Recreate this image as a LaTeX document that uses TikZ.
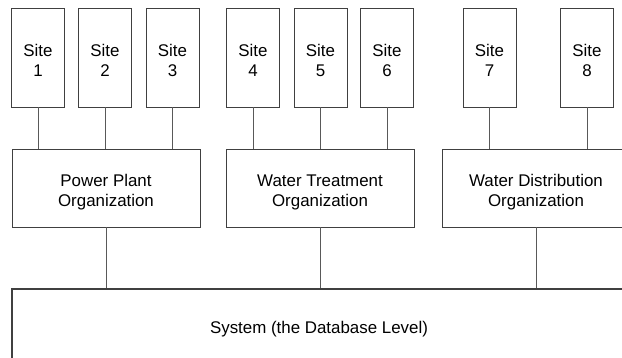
\documentclass[tikz,border=0pt]{standalone}
\usepackage{fontspec}
\setmainfont{Liberation Sans}
\tikzset{
	site/.style={draw=black!75, line width=0.8pt, minimum width=53pt, minimum height=99pt, inner sep=0pt, align=center, font=\fontsize{16.9}{20}\selectfont, execute at begin node={\rule{0pt}{38pt}}},
	org/.style={draw=black!75, line width=0.8pt, minimum width=188pt, minimum height=78pt, inner sep=0pt, align=center, font=\fontsize{16.9}{20}\selectfont, execute at begin node={\rule{0pt}{40pt}}},
	base/.style={draw=black!75, line width=1.2pt, minimum width=614pt, minimum height=72pt, inner sep=0pt, font=\fontsize{16.9}{20}\selectfont, execute at begin node={\rule{0pt}{20pt}}},
	link/.style={draw=black!65, line width=0.9pt}
}
\begin{document}
\begin{tikzpicture}[x=1pt,y=-1pt]

		\useasboundingbox (0,0) rectangle (622,358);

		\node[site] (s1) at (38,57.5) {Site\\1}; %Sites
		\node[site] (s2) at (105,57.5) {Site\\2};
		\node[site] (s3) at (172.5,57.5) {Site\\3};
		\node[site] (s4) at (253,57.5) {Site\\4};
		\node[site] (s5) at (320.5,57.5) {Site\\5};
		\node[site] (s6) at (387,57.5) {Site\\6};
		\node[site] (s7) at (489.5,57.5) {Site\\7};
		\node[site] (s8) at (587,57.5) {Site\\8};

		\node[org] (pp) at (106,188) {Power Plant\\Organization}; %Organizations
		\node[org] (wt) at (320,188) {Water Treatment\\Organization};
		\node[org] (wd) at (536,188) {Water Distribution\\Organization};

		\node[base] (sys) at (319,325) {System (the Database Level)}; %System

		\draw[link] (s1) -- (s1 |- pp.north);
		\draw[link] (s2) -- (s2 |- pp.north);
		\draw[link] (s3) -- (s3 |- pp.north);
		\draw[link] (s4) -- (s4 |- wt.north);
		\draw[link] (s5) -- (s5 |- wt.north);
		\draw[link] (s6) -- (s6 |- wt.north);
		\draw[link] (s7) -- (s7 |- wd.north);
		\draw[link] (s8) -- (s8 |- wd.north);

		\draw[link] (pp) -- (pp |- sys.north);
		\draw[link] (wt) -- (wt |- sys.north);
		\draw[link] (wd) -- (wd |- sys.north);

	\end{tikzpicture}
\end{document}
